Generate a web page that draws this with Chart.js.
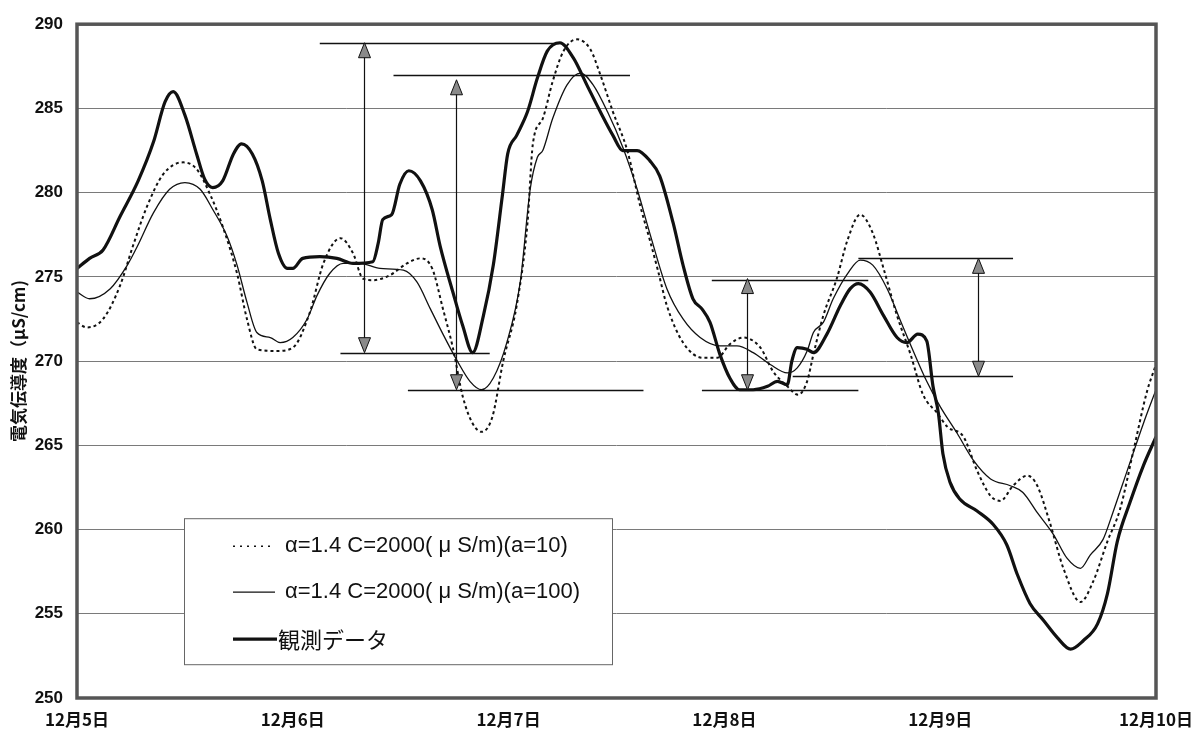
<!DOCTYPE html>
<html>
<head>
<meta charset="utf-8">
<script src="https://cdn.jsdelivr.net/npm/chart.js@4.4.1/dist/chart.umd.min.js"></script>
<style>
  html, body { margin: 0; padding: 0; background: #fff; }
  #wrap { width: 1203px; height: 736px; }
</style>
</head>
<body>
<div id="wrap"><canvas id="chart"></canvas></div>
<script>
// x = hours since 12月5日 0:00, y = conductivity (μS/cm)
const dayLabels = ['12月5日', '12月6日', '12月7日', '12月8日', '12月9日', '12月10日'];
const seriesLabels = ['α=1.4 C=2000( μ S/m)(a=10)', 'α=1.4 C=2000( μ S/m)(a=100)', '観測データ'];

const calcA10 = [
  [0, 272.3], [1.1, 272.0], [2.9, 272.5], [4.8, 274.5], [6.2, 276.8], [7.8, 279.2], [9.6, 281.1],
  [11.8, 281.8], [13.3, 281.4], [14.8, 279.9], [16.2, 278.0], [17.8, 275.2], [18.9, 272.5],
  [20.0, 270.7], [22.2, 270.6], [24.0, 270.8], [25.9, 272.9], [27.4, 275.8], [29.3, 277.3],
  [30.7, 276.4], [31.8, 274.9], [32.9, 274.8], [34.8, 275.1], [36.7, 275.8], [38.2, 276.1],
  [39.5, 275.5], [40.7, 273.1], [41.8, 270.8], [42.9, 267.9], [44.0, 266.3], [45.0, 265.8],
  [46.2, 266.7], [47.4, 270.0], [48.9, 273.3], [50.1, 278.2], [50.7, 282.9], [51.8, 284.4],
  [52.9, 286.6], [54.1, 288.4], [55.6, 289.1], [57.1, 288.5], [58.2, 287.0], [59.6, 284.8],
  [61.2, 282.5], [62.6, 279.3], [63.7, 277.2], [64.6, 275.4], [65.6, 273.3], [67.4, 271.1],
  [69.6, 270.2], [71.2, 270.2], [72.6, 271.0], [74.1, 271.4], [76.0, 270.8], [77.4, 269.4],
  [79.0, 268.5], [80.2, 268.0], [81.2, 268.8], [81.9, 270.4], [83.0, 272.7], [84.5, 274.9],
  [85.7, 277.2], [87.1, 278.7], [88.5, 277.6], [89.7, 275.5], [91.2, 272.7], [92.7, 270.4],
  [94.1, 268.0], [95.7, 266.9], [96.8, 266.1], [98.6, 265.5], [100.1, 263.5], [101.6, 262.0],
  [102.7, 261.7], [104.1, 262.6], [105.7, 263.2], [106.8, 262.6], [108.2, 260.4], [109.7, 257.7],
  [111.6, 255.7], [113.0, 256.9], [114.6, 259.3], [116.0, 261.2], [117.5, 264.7], [119.0, 268.2],
  [120, 269.8]
];

const calcA100 = [
  [0, 274.1], [1.4, 273.7], [3.7, 274.3], [5.6, 275.7], [6.7, 276.8], [8.5, 278.8], [10.3, 280.2],
  [12.0, 280.6], [13.7, 280.2], [15.1, 279.0], [16.7, 277.4], [17.8, 275.7], [18.9, 273.5],
  [20.0, 271.7], [21.5, 271.4], [22.6, 271.1], [24.0, 271.4], [25.6, 272.5], [26.7, 273.9],
  [28.1, 275.2], [29.6, 275.8], [31.5, 275.8], [33.7, 275.5], [36.3, 275.4], [37.8, 274.7],
  [39.3, 273.1], [40.7, 271.6], [42.3, 270.0], [43.7, 268.8], [45.0, 268.3], [46.3, 269.0],
  [47.8, 271.1], [49.3, 274.7], [50.4, 280.2], [51.2, 282.1], [51.8, 282.5], [52.9, 284.4],
  [54.5, 286.4], [56.0, 287.1], [57.4, 286.4], [59.0, 284.8], [60.7, 282.7], [62.3, 280.2],
  [63.7, 277.6], [65.6, 274.3], [67.4, 272.5], [69.3, 271.4], [71.5, 270.9], [73.4, 270.9],
  [75.2, 270.5], [77.1, 269.8], [79.0, 269.3], [80.1, 269.6], [81.2, 270.6], [81.9, 271.7],
  [83.0, 272.3], [84.1, 273.7], [85.7, 275.2], [87.1, 276.0], [88.5, 275.7], [90.1, 274.3],
  [91.5, 272.5], [93.0, 270.6], [94.5, 268.8], [96.0, 267.3], [97.9, 265.7], [99.7, 264.1],
  [101.6, 263.0], [103.8, 262.6], [105.2, 262.2], [106.8, 261.0], [108.6, 259.7], [110.1, 258.3],
  [111.6, 257.7], [112.7, 258.5], [114.1, 259.4], [115.2, 261.0], [116.8, 263.5], [118.6, 266.3],
  [120, 268.3]
];

const observed = [
  [0, 275.5], [1.4, 276.1], [2.9, 276.6], [4.8, 278.6], [6.8, 280.7], [8.5, 283.0], [9.8, 285.4],
  [10.7, 286.0], [12.0, 284.6], [13.3, 282.3], [14.2, 280.8], [15.1, 280.3], [16.2, 280.7],
  [17.4, 282.3], [18.3, 282.9], [19.5, 282.3], [20.6, 280.7], [21.5, 278.4], [22.4, 276.4],
  [23.4, 275.5], [24.0, 275.5], [25.1, 276.1], [27.0, 276.2], [28.9, 276.1], [30.7, 275.8],
  [32.9, 275.9], [33.5, 277.0], [34.0, 278.4], [35.0, 278.7], [35.9, 280.5], [36.9, 281.3],
  [38.2, 280.7], [39.5, 279.0], [40.4, 276.8], [41.8, 274.1], [42.9, 272.1], [44.0, 270.5],
  [45.2, 272.7], [46.3, 275.7], [47.3, 279.8], [47.9, 282.3], [48.9, 283.4], [50.1, 284.8],
  [51.2, 286.8], [52.3, 288.4], [53.7, 288.9], [55.2, 288.0], [56.7, 286.4], [58.2, 284.8],
  [59.6, 283.4], [60.7, 282.5], [62.3, 282.5], [63.7, 281.9], [64.8, 281.0], [66.3, 278.2],
  [67.4, 275.7], [68.5, 273.7], [69.5, 273.1], [70.4, 272.3], [71.5, 270.4], [72.6, 269.0],
  [73.7, 268.3], [75.2, 268.3], [76.8, 268.5], [77.9, 268.8], [79.0, 268.6], [79.5, 270.0],
  [80.1, 270.8], [81.2, 270.7], [81.9, 270.5], [83.4, 271.6], [84.9, 273.3], [86.0, 274.3],
  [86.9, 274.6], [88.2, 274.1], [89.7, 272.7], [91.2, 271.4], [92.3, 271.1], [93.5, 271.6],
  [94.5, 271.2], [95.2, 268.5], [95.8, 266.9], [96.3, 264.5], [97.1, 262.8], [98.2, 261.8],
  [100.1, 261.1], [101.9, 260.3], [103.4, 259.1], [104.6, 257.3], [106.0, 255.6], [107.5, 254.6],
  [109.0, 253.6], [110.5, 252.9], [111.9, 253.4], [113.5, 254.4], [114.6, 256.2], [115.7, 259.3],
  [117.1, 261.6], [118.6, 263.8], [120, 265.5]
];

// [from hour, to hour, value]
const refLines = [
  [27.0, 53.7, 288.9], [35.2, 61.5, 287.0], [29.3, 45.9, 270.5], [36.8, 63.0, 268.3],
  [70.6, 88.0, 274.8], [86.9, 104.1, 276.1], [69.5, 86.9, 268.3], [79.6, 104.1, 269.1]
];
// [hour, upper value, lower value]
const rangeArrows = [
  [31.9, 288.9, 270.5], [42.2, 286.7, 268.3], [74.5, 274.9, 268.3], [100.2, 276.1, 269.1]
];

const toXY = pts => pts.map(p => ({ x: p[0], y: p[1] }));

const annotationPlugin = {
  id: 'annotations',
  afterDatasetsDraw(chart) {
    const { ctx, scales: { x, y } } = chart;
    ctx.save();
    ctx.strokeStyle = '#111';
    ctx.lineWidth = 1.3;
    refLines.forEach(([h1, h2, v]) => {
      const py = Math.round(y.getPixelForValue(v)) + 0.5;
      ctx.beginPath();
      ctx.moveTo(x.getPixelForValue(h1), py);
      ctx.lineTo(x.getPixelForValue(h2), py);
      ctx.stroke();
    });
    rangeArrows.forEach(([h, top, bottom]) => {
      const px = Math.round(x.getPixelForValue(h)) + 0.5;
      const yt = y.getPixelForValue(top);
      const yb = y.getPixelForValue(bottom);
      ctx.lineWidth = 1.2;
      ctx.beginPath();
      ctx.moveTo(px, yt + 8);
      ctx.lineTo(px, yb - 8);
      ctx.stroke();
      [[yt, 1], [yb, -1]].forEach(([tip, dir]) => {
        ctx.beginPath();
        ctx.moveTo(px, tip);
        ctx.lineTo(px - 6, tip + dir * 15);
        ctx.lineTo(px + 6, tip + dir * 15);
        ctx.closePath();
        ctx.fillStyle = '#8a8a8a';
        ctx.fill();
        ctx.lineWidth = 1;
        ctx.stroke();
      });
    });
    ctx.restore();
  },
  afterDraw(chart) {
    const { ctx, chartArea: a } = chart;
    ctx.save();
    // frame
    ctx.strokeStyle = '#555';
    ctx.lineWidth = 3.5;
    ctx.strokeRect(a.left, a.top, a.right - a.left, a.bottom - a.top);

    // legend box
    const bx = a.left + 107, by = a.top + 494, bw = 428, bh = 146;
    ctx.fillStyle = '#fff';
    ctx.fillRect(bx, by, bw, bh);
    ctx.strokeStyle = '#666';
    ctx.lineWidth = 1;
    ctx.strokeRect(bx + 0.5, by + 0.5, bw, bh);

    const rows = [by + 28, by + 74, by + 121];
    chart.data.datasets.forEach((ds, i) => {
      const ry = rows[i];
      ctx.beginPath();
      ctx.strokeStyle = ds.borderColor;
      ctx.lineWidth = i === 0 ? 1.5 : ds.borderWidth;
      ctx.setLineDash(i === 0 ? [2, 5] : []);
      ctx.moveTo(bx + 49, ry);
      ctx.lineTo(bx + (i === 2 ? 93 : 91), ry);
      ctx.stroke();
      ctx.setLineDash([]);
      ctx.fillStyle = '#111';
      ctx.textBaseline = 'middle';
      ctx.font = i === 2 ? '22px "Noto Sans CJK JP"' : '22px "Liberation Sans", "Noto Sans CJK JP"';
      ctx.fillText(ds.label, bx + (i === 2 ? 94 : 101), ry);
    });
    ctx.restore();
  }
};

new Chart(document.getElementById('chart'), {
  type: 'line',
  data: {
    datasets: [
      {
        label: seriesLabels[0],
        data: toXY(calcA10),
        borderColor: '#111',
        borderWidth: 2,
        borderDash: [3, 3],
        pointRadius: 0,
        cubicInterpolationMode: 'monotone'
      },
      {
        label: seriesLabels[1],
        data: toXY(calcA100),
        borderColor: '#111',
        borderWidth: 1.3,
        pointRadius: 0,
        cubicInterpolationMode: 'monotone'
      },
      {
        label: seriesLabels[2],
        data: toXY(observed),
        borderColor: '#111',
        borderWidth: 3.2,
        pointRadius: 0,
        cubicInterpolationMode: 'monotone'
      }
    ]
  },
  options: {
    responsive: true,
    maintainAspectRatio: false,
    animation: false,
    layout: { padding: { top: 15, right: 47, bottom: 0, left: 0 } },
    plugins: {
      legend: { display: false },
      tooltip: { enabled: false }
    },
    scales: {
      x: {
        type: 'linear',
        min: 0,
        max: 120,
        afterFit: (s) => { s.height = 38; },
        afterBuildTicks: (s) => { s.ticks = dayLabels.map((_, i) => ({ value: i * 24 })); },
        grid: { display: false },
        border: { display: false },
        ticks: {
          padding: 3,
          maxRotation: 0,
          color: '#111',
          font: { family: '"Noto Sans CJK JP"', size: 17, weight: 'bold' },
          callback: (v) => dayLabels[Math.round(v / 24)]
        }
      },
      y: {
        min: 250,
        max: 290,
        afterFit: (s) => { s.width = 77; },
        grid: { color: '#7a7a7a', lineWidth: 1, drawTicks: false },
        border: { display: false },
        ticks: {
          stepSize: 5,
          padding: 14,
          color: '#111',
          font: { family: '"Liberation Sans"', size: 17, weight: 'bold' }
        },
        title: {
          display: true,
          text: '電気伝導度（μS/cm)',
          color: '#111',
          padding: { top: 8, bottom: 0 },
          font: { family: '"Noto Sans CJK JP"', size: 17, weight: 'bold' }
        }
      }
    }
  },
  plugins: [annotationPlugin]
});
</script>
</body>
</html>
